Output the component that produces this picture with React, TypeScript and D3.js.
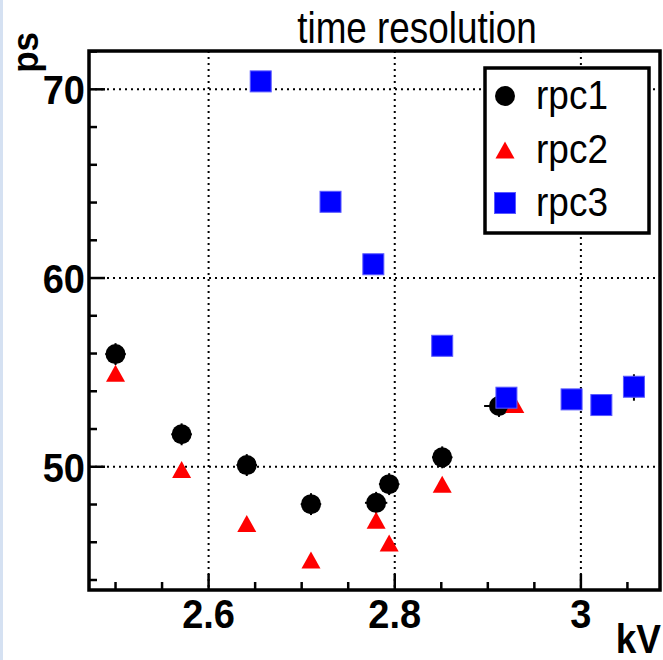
import React from "react";
import * as d3 from "d3";

const rpc1X = [2.5, 2.571, 2.641, 2.71, 2.78, 2.794, 2.851, 2.912, 3.057];
const rpc1Y = [55.97, 51.72, 50.09, 48.02, 48.09, 49.08, 50.5, 53.22, 54.2];
const rpc1Ex = [0.011, 0.011, 0.011, 0.011, 0.012, 0.011, 0.011, 0.016, 0.011];
const rpc1Ey = [0.58, 0.58, 0.58, 0.58, 0.58, 0.58, 0.58, 0.58, 0.7];

const rpc2X = [2.5, 2.571, 2.641, 2.71, 2.78, 2.794, 2.851, 2.929];
const rpc2Y = [54.95, 49.86, 47.0, 45.06, 47.17, 45.96, 49.08, 53.3];

const rpc3X = [2.656, 2.731, 2.777, 2.851, 2.92, 2.99, 3.022, 3.057];
const rpc3Y = [70.42, 64.04, 60.73, 56.41, 53.66, 53.57, 53.27, 54.24];

const xMajor = [2.6, 2.8, 3.0];
const xMajorLabels = ["2.6", "2.8", "3"];
const xMinor = [2.5, 2.55, 2.65, 2.7, 2.75, 2.85, 2.9, 2.95, 3.05];
const yMajor = [50, 60, 70];
const yMinor = [44, 46, 48, 52, 54, 56, 58, 62, 64, 66, 68, 72];

const legendNames = ["rpc1", "rpc2", "rpc3"];

const W = 663;
const H = 660;
const L = 89, R = 660, T = 51, B = 590;
const FONT = "'Liberation Sans', Arial, Helvetica, sans-serif";

export default function App() {
  const x = d3.scaleLinear().domain([2.4715, 3.085]).range([L, R]);
  const y = d3.scaleLinear().domain([43.47, 72.03]).range([B, T]);

  const tri = (cx: number, cy: number) => {
    const w = 19, h = 17;
    return `M${cx - w / 2},${cy + h / 2}L${cx + w / 2},${cy + h / 2}L${cx},${cy - h / 2}Z`;
  };

  const legendY = [96, 150, 203];

  return (
    <svg width={W} height={H} style={{ position: "absolute", left: 0, top: 0 }} xmlns="http://www.w3.org/2000/svg">
      <rect x={0} y={0} width={W} height={H} fill="#ffffff" />
      <rect x={0} y={0} width={3} height={H} fill="#d5e1f2" />

      {/* grid */}
      <g stroke="#000" strokeWidth={2} strokeDasharray="2,4">
        {xMajor.map((v, i) => (
          <line key={"gx" + i} x1={x(v)} x2={x(v)} y1={T} y2={B} />
        ))}
        {yMajor.map((v, i) => (
          <line key={"gy" + i} x1={L} x2={R} y1={y(v)} y2={y(v)} />
        ))}
      </g>

      {/* ticks */}
      <g stroke="#000" strokeWidth={2.5}>
        {xMajor.map((v, i) => (
          <line key={"tx" + i} x1={x(v)} x2={x(v)} y1={B} y2={B - 16} />
        ))}
        {xMinor.map((v, i) => (
          <line key={"tmx" + i} x1={x(v)} x2={x(v)} y1={B} y2={B - 8} />
        ))}
        {yMajor.map((v, i) => (
          <line key={"ty" + i} x1={L} x2={L + 16} y1={y(v)} y2={y(v)} />
        ))}
        {yMinor.map((v, i) => (
          <line key={"tmy" + i} x1={L} x2={L + 8} y1={y(v)} y2={y(v)} />
        ))}
      </g>

      {/* frame */}
      <rect x={L} y={T} width={R - L} height={B - T} fill="none" stroke="#000" strokeWidth={3.5} />

      {/* rpc1 error bars */}
      <g stroke="#000" strokeWidth={2}>
        {rpc1X.map((v, i) => (
          <g key={"e" + i}>
            <line x1={x(v)} x2={x(v)} y1={y(rpc1Y[i] - rpc1Ey[i])} y2={y(rpc1Y[i] + rpc1Ey[i])} />
            <line x1={x(v - rpc1Ex[i])} x2={x(v + rpc1Ex[i])} y1={y(rpc1Y[i])} y2={y(rpc1Y[i])} />
          </g>
        ))}
      </g>

      {/* rpc1 circles */}
      {rpc1X.map((v, i) => (
        <circle key={"c" + i} cx={x(v)} cy={y(rpc1Y[i])} r={10} fill="#000" />
      ))}
      {/* rpc2 triangles */}
      {rpc2X.map((v, i) => (
        <path key={"t" + i} d={tri(x(v), y(rpc2Y[i]))} fill="#ff0000" />
      ))}
      {/* rpc3 squares */}
      {rpc3X.map((v, i) => (
        <rect key={"s" + i} x={x(v) - 10.5} y={y(rpc3Y[i]) - 10.5} width={21} height={21} fill="#0000ff" stroke="#5a5aff" strokeWidth={1} />
      ))}

      {/* tick labels */}
      <g fontFamily={FONT} fontWeight="bold" fontSize={38} fill="#000">
        {xMajor.map((v, i) => (
          <text key={"lx" + i} transform={`translate(${x(v)},628) scale(1,1.08)`} textAnchor="middle">{xMajorLabels[i]}</text>
        ))}
        {yMajor.map((v, i) => (
          <text key={"ly" + i} transform={`translate(85,${y(v) + 15}) scale(1,1.08)`} textAnchor="end">{String(v)}</text>
        ))}
      </g>

      {/* axis titles */}
      <text transform="translate(661,653) scale(1,1.08)" textAnchor="end" fontFamily={FONT} fontWeight="bold" fontSize={37}>kV</text>
      <text transform="translate(38,32) rotate(-90) scale(1,1.05)" x={0} y={0} textAnchor="end" fontFamily={FONT} fontWeight="bold" fontSize={35}>ps</text>

      {/* title */}
      <text transform="translate(417,43) scale(0.97,1.15)" textAnchor="middle" fontFamily={FONT} fontSize={38}>time resolution</text>

      {/* legend */}
      <rect x={485} y={68} width={164} height={165} fill="#fff" stroke="#000" strokeWidth={3.5} />
      <circle cx={505} cy={legendY[0]} r={10} fill="#000" />
      <path d={tri(505, legendY[1])} fill="#ff0000" />
      <rect x={505 - 10.5} y={legendY[2] - 10.5} width={21} height={21} fill="#0000ff" stroke="#5a5aff" strokeWidth={1} />
      {legendNames.map((n, i) => (
        <text key={"ln" + i} transform={`translate(536,${legendY[i] + 13}) scale(1,1.08)`} fontFamily={FONT} fontSize={37}>{n}</text>
      ))}
    </svg>
  );
}
